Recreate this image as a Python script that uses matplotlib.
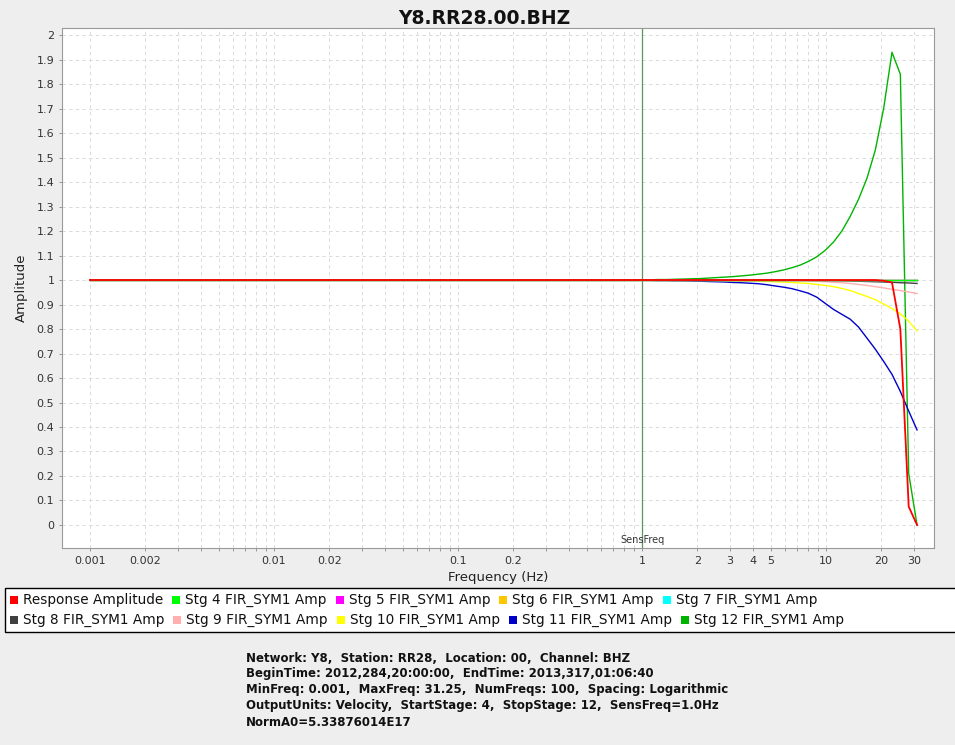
import numpy as np
import matplotlib
matplotlib.use('Agg')
import matplotlib.pyplot as plt
from matplotlib.patches import Rectangle
from matplotlib.ticker import FixedLocator, FuncFormatter

# ---------------- data ----------------
title = "Y8.RR28.00.BHZ"
MIN_FREQ = 0.001
MAX_FREQ = 31.25
NUM_FREQS = 100
freqs = np.logspace(np.log10(MIN_FREQ), np.log10(MAX_FREQ), NUM_FREQS)  # logarithmic spacing
TAIL_START = 66  # values before this index are all 1.0

series_names = ["Response Amplitude", "Stg 4 FIR_SYM1 Amp", "Stg 5 FIR_SYM1 Amp",
                "Stg 6 FIR_SYM1 Amp", "Stg 7 FIR_SYM1 Amp", "Stg 8 FIR_SYM1 Amp",
                "Stg 9 FIR_SYM1 Amp", "Stg 10 FIR_SYM1 Amp", "Stg 11 FIR_SYM1 Amp",
                "Stg 12 FIR_SYM1 Amp"]
series_colors = ["#ff0000", "#00ff00", "#ff00ff", "#ffc800", "#00ffff",
                 "#404040", "#ffafaf", "#ffff00", "#0000c8", "#00b400"]

tail_response = [1.0] * 29 + [0.997, 0.990, 0.800, 0.075, 0.000]
tail_stg4 = [1.0] * 34
tail_stg5 = [1.0] * 34
tail_stg6 = [1.0] * 34
tail_stg7 = [1.0] * 34
tail_stg8 = [1.0] * 20 + [0.999, 0.999, 0.998, 0.998, 0.997, 0.996, 0.995,
                          0.994, 0.993, 0.992, 0.991, 0.989, 0.988, 0.986]
tail_stg9 = [1.0] * 15 + [0.999, 0.999, 0.998, 0.998, 0.997, 0.996, 0.995, 0.993,
                          0.991, 0.989, 0.986, 0.982, 0.978, 0.973, 0.968, 0.962,
                          0.957, 0.951, 0.945]
tail_stg10 = [1.0, 1.0, 1.0, 1.0, 1.0, 0.999, 0.999, 0.999, 0.999, 0.998, 0.998,
              0.997, 0.997, 0.996, 0.995, 0.994, 0.993, 0.992, 0.990, 0.988, 0.986,
              0.982, 0.978, 0.973, 0.966, 0.957, 0.945, 0.933, 0.920, 0.902, 0.884,
              0.862, 0.832, 0.792]
tail_stg11 = [0.999, 0.999, 0.998, 0.998, 0.997, 0.997, 0.996, 0.995, 0.994, 0.993,
              0.992, 0.990, 0.989, 0.987, 0.985, 0.981, 0.976, 0.971, 0.965, 0.956,
              0.946, 0.930, 0.905, 0.880, 0.860, 0.840, 0.808, 0.763, 0.718, 0.668,
              0.615, 0.545, 0.465, 0.388]
tail_stg12 = [1.001, 1.001, 1.002, 1.002, 1.003, 1.004, 1.005, 1.006, 1.008, 1.010,
              1.012, 1.014, 1.017, 1.020, 1.024, 1.028, 1.034, 1.041, 1.050, 1.061,
              1.076, 1.095, 1.121, 1.155, 1.200, 1.260, 1.330, 1.415, 1.530, 1.700,
              1.930, 1.840, 0.210, 0.000]
tails = [tail_response, tail_stg4, tail_stg5, tail_stg6, tail_stg7, tail_stg8,
         tail_stg9, tail_stg10, tail_stg11, tail_stg12]

x_tick_labels = [0.001, 0.002, 0.01, 0.02, 0.1, 0.2, 1, 2, 3, 4, 5, 10, 20, 30]
y_ticks = [round(0.1 * k, 1) for k in range(21)]
sens_freq = 1.0

info_lines = [
    "Network: Y8,  Station: RR28,  Location: 00,  Channel: BHZ",
    "BeginTime: 2012,284,20:00:00,  EndTime: 2013,317,01:06:40",
    "MinFreq: 0.001,  MaxFreq: 31.25,  NumFreqs: 100,  Spacing: Logarithmic",
    "OutputUnits: Velocity,  StartStage: 4,  StopStage: 12,  SensFreq=1.0Hz",
    "NormA0=5.33876014E17",
]

# ---------------- figure ----------------
W, H = 955, 745
fig = plt.figure(figsize=(W / 100, H / 100), dpi=100, facecolor="#eeeeee")


def fx(x):
    return x / W


def fy(y):
    return 1 - y / H


ax_l, ax_r, ax_t, ax_b = 62, 934, 28, 548
ax = fig.add_axes([fx(ax_l), fy(ax_b), (ax_r - ax_l) / W, (ax_b - ax_t) / H])
ax.set_facecolor("white")
ax.set_xscale("log")
ax.set_xlim(10 ** (-3 - 28 / 184), 10 ** (292 / 184))
ax.set_ylim(-0.094, 2.029)

x_grid = []
for dec in [0.001, 0.01, 0.1, 1, 10]:
    for m in range(1, 10):
        v = dec * m
        if v <= 38:
            x_grid.append(v)
ax.xaxis.set_major_locator(FixedLocator(x_grid))
ax.xaxis.set_minor_locator(FixedLocator([]))


def xfmt(v, pos):
    for t in x_tick_labels:
        if abs(v - t) / t < 1e-6:
            return "%g" % t
    return ""


ax.xaxis.set_major_formatter(FuncFormatter(xfmt))
ax.yaxis.set_major_locator(FixedLocator(y_ticks))
ax.yaxis.set_major_formatter(FuncFormatter(lambda v, p: "%g" % round(v, 1)))

ax.grid(True, which="major", color="#d4d4d4", linestyle=(0, (4, 4)), linewidth=0.6)
ax.set_axisbelow(True)
for s in ax.spines.values():
    s.set_color("#999999")
    s.set_linewidth(0.8)
ax.tick_params(axis="both", direction="out", length=2.5, width=0.6, color="#888888",
               labelsize=8, labelcolor="#333333", pad=3)

# curves (series 0 on top)
for k in range(len(series_names) - 1, -1, -1):
    amps = np.array([1.0] * TAIL_START + tails[k])
    ax.plot(freqs, amps, color=series_colors[k], linewidth=1.3 if k == 0 else 1.0,
            zorder=3 + (10 - k) * 0.01)

# sens freq marker
ax.axvline(sens_freq, color="#5a965a", linewidth=0.9, zorder=2.5)
ax.text(sens_freq, -0.063, "SensFreq", fontsize=7, color="#333333",
        ha="center", va="center", zorder=5)

ax.set_xlabel("Frequency (Hz)", fontsize=9.5, color="#222222", labelpad=3.5)
ax.set_ylabel("Amplitude", fontsize=9.5, color="#222222", labelpad=6)

fig.text(fx(484), fy(18), title, fontsize=13.5, fontweight="bold",
         ha="center", va="center", color="#111111")

# legend box
fig.patches.append(Rectangle((fx(5), fy(632)), (W + 10 - 5) / W, (632 - 588) / H,
                             transform=fig.transFigure, facecolor="white",
                             edgecolor="black", linewidth=1.0, zorder=1))
renderer = fig.canvas.get_renderer()
rows = [(600, series_names[:5], series_colors[:5]),
        (620, series_names[5:], series_colors[5:])]
for ry, names, cols in rows:
    x = 10
    for name, col in zip(names, cols):
        fig.patches.append(Rectangle((fx(x), fy(ry + 4)), 8 / W, 8 / H,
                                     transform=fig.transFigure, facecolor=col,
                                     edgecolor="none", zorder=2))
        t = fig.text(fx(x + 13), fy(ry), name, fontsize=9.85, color="#111111",
                     ha="left", va="center", zorder=3)
        bb = t.get_window_extent(renderer)
        x = bb.x1 + 9

# info text
for i, line in enumerate(info_lines):
    fig.text(fx(246), fy(658 + 16 * i), line, fontsize=8.5, fontweight="bold",
             family="DejaVu Sans", ha="left", va="center", color="#111111")

fig.savefig("out.png", dpi=100, facecolor=fig.get_facecolor())
